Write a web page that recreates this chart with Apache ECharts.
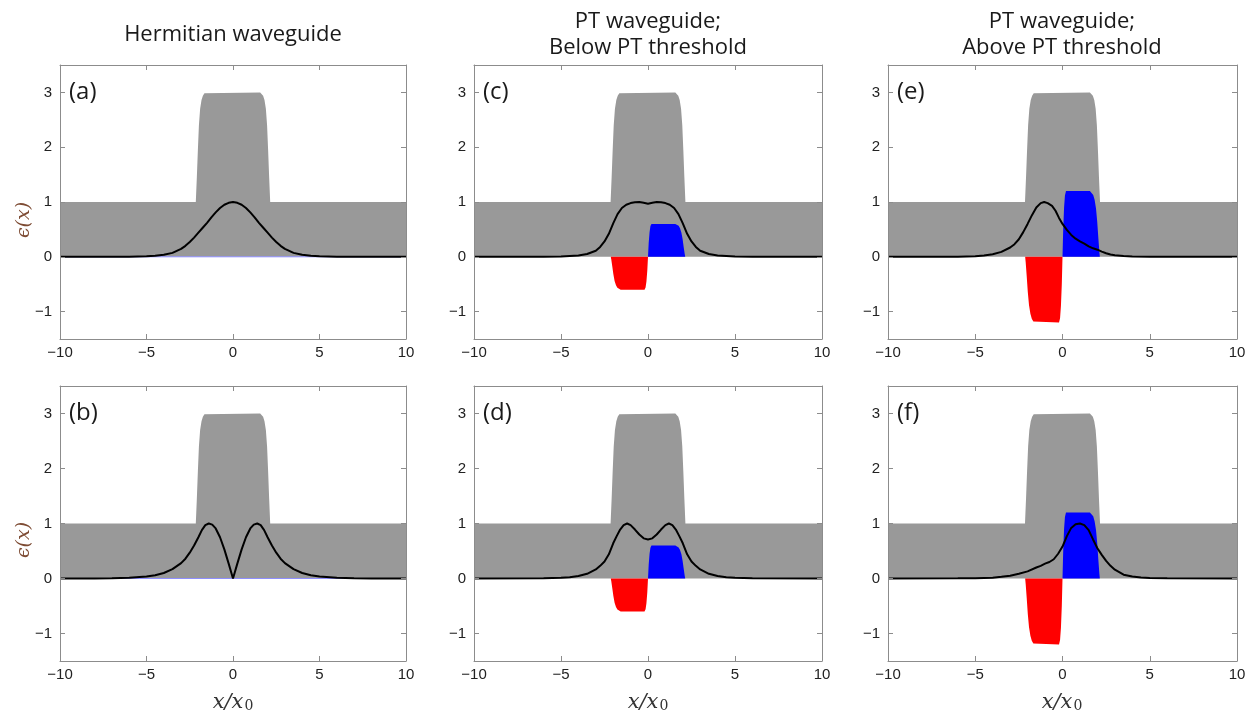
<!DOCTYPE html>
<html>
<head>
<meta charset="utf-8">
<script src="https://cdn.jsdelivr.net/npm/echarts@6/dist/echarts.min.js"></script>
<style>
  html, body { margin: 0; padding: 0; background: #fff; }
  #chart { width: 1252px; height: 717px; }
</style>
</head>
<body>
<div id="chart"></div>
<script>
// Axis ticks
const xTicks = [-10, -5, 0, 5, 10];
const yTicks = [-1, 0, 1, 2, 3];

// Real part of the permittivity (same core/cladding profile in every panel)
const profileX  = [-10, -2.15, -2.09, -2.03, -1.97, -1.9, -1.82, -1.74, -1.65, -1.57, 1.57, 1.65, 1.74, 1.82, 1.9, 1.97, 2.03, 2.09, 2.15, 10];
const profileRe = [1, 1, 1.45, 1.95, 2.4, 2.7, 2.86, 2.94, 2.985, 3, 3, 2.985, 2.94, 2.86, 2.7, 2.4, 1.95, 1.45, 1, 1];

// Imaginary part: zero for the Hermitian guide
const hermX  = [-10, 10];
const hermIm = [0, 0];

// Imaginary part: gain side (x > 0) and loss side (x < 0)
const gainX      = [0, 0.04, 0.09, 0.14, 0.2, 1.57, 1.67, 1.76, 1.84, 1.92, 1.99, 2.05, 2.11, 2.14];
const gainBelow  = [0, 0.25, 0.45, 0.56, 0.6, 0.6, 0.59, 0.565, 0.52, 0.44, 0.32, 0.18, 0.05, 0];
const gainAbove  = [0, 0.5, 0.9, 1.12, 1.2, 1.2, 1.18, 1.13, 1.04, 0.88, 0.64, 0.36, 0.1, 0];
const lossX      = [-2.14, -2.11, -2.05, -1.99, -1.92, -1.84, -1.76, -1.67, -1.57, -0.2, -0.14, -0.09, -0.04, 0];
const lossBelow  = [0, -0.05, -0.18, -0.32, -0.44, -0.52, -0.565, -0.59, -0.6, -0.6, -0.56, -0.45, -0.25, 0];
const lossAbove  = [0, -0.1, -0.36, -0.64, -0.88, -1.04, -1.13, -1.18, -1.2, -1.2, -1.12, -0.9, -0.5, 0];

// Mode intensity profiles |psi(x)|^2, normalised to a peak of 1
const modeA = [[-10,0],[-7,0.001],[-6,0.003],[-5,0.009],[-4.5,0.018],[-4,0.036],[-3.5,0.072],[-3,0.145],[-2.75,0.2],[-2.5,0.27],[-2.25,0.35],[-2,0.44],[-1.75,0.53],[-1.5,0.62],[-1.25,0.72],[-1,0.81],[-0.75,0.89],[-0.5,0.95],[-0.25,0.985],[0,1],
  [0.25,0.985],[0.5,0.95],[0.75,0.89],[1,0.81],[1.25,0.72],[1.5,0.62],[1.75,0.53],[2,0.44],[2.25,0.35],[2.5,0.27],[2.75,0.2],[3,0.145],[3.5,0.072],[4,0.036],[4.5,0.018],[5,0.009],[6,0.003],[7,0.001],[10,0]];
const modeB = [[-10,0],[-8,0.001],[-7,0.004],[-6,0.012],[-5,0.035],[-4.5,0.06],[-4,0.1],[-3.5,0.17],[-3,0.28],[-2.75,0.36],[-2.5,0.47],[-2.25,0.6],[-2,0.75],[-1.8,0.88],[-1.6,0.97],[-1.4,1],[-1.2,0.98],[-1,0.91],[-0.75,0.75],[-0.5,0.53],[-0.25,0.27],[0,0],
  [0.25,0.27],[0.5,0.53],[0.75,0.75],[1,0.91],[1.2,0.98],[1.4,1],[1.6,0.97],[1.8,0.88],[2,0.75],[2.25,0.6],[2.5,0.47],[2.75,0.36],[3,0.28],[3.5,0.17],[4,0.1],[4.5,0.06],[5,0.035],[6,0.012],[7,0.004],[8,0.001],[10,0]];
const modeC = [[-10,0],[-6,0.002],[-5,0.006],[-4,0.025],[-3.5,0.05],[-3,0.11],[-2.75,0.18],[-2.5,0.28],[-2.25,0.42],[-2,0.61],[-1.75,0.78],[-1.5,0.89],[-1.25,0.95],[-1,0.98],[-0.75,0.995],[-0.5,1],[-0.25,0.985],[0,0.97],
  [0.25,0.985],[0.5,1],[0.75,0.995],[1,0.98],[1.25,0.95],[1.5,0.89],[1.75,0.78],[2,0.61],[2.25,0.42],[2.5,0.28],[2.75,0.18],[3,0.11],[3.5,0.05],[4,0.025],[5,0.006],[6,0.002],[10,0]];
const modeD = [[-10,0],[-6,0.003],[-5,0.012],[-4.5,0.022],[-4,0.045],[-3.5,0.085],[-3,0.165],[-2.75,0.23],[-2.5,0.31],[-2.25,0.44],[-2,0.64],[-1.8,0.77],[-1.6,0.89],[-1.4,0.97],[-1.2,1],[-1,0.97],[-0.75,0.89],[-0.5,0.8],[-0.25,0.73],[0,0.71],
  [0.25,0.73],[0.5,0.8],[0.75,0.89],[1,0.97],[1.2,1],[1.4,0.97],[1.6,0.89],[1.8,0.77],[2,0.64],[2.25,0.44],[2.5,0.31],[2.75,0.23],[3,0.165],[3.5,0.085],[4,0.045],[4.5,0.022],[5,0.012],[6,0.003],[10,0]];
const modeE = [[-10,0],[-6,0.002],[-5,0.01],[-4.5,0.025],[-4,0.045],[-3.5,0.09],[-3,0.17],[-2.75,0.23],[-2.5,0.32],[-2.25,0.45],[-2,0.6],[-1.75,0.76],[-1.5,0.9],[-1.25,0.98],[-1.05,1],[-0.85,0.98],[-0.6,0.93],[-0.4,0.84],[-0.2,0.71],[0,0.6],
  [0.25,0.49],[0.5,0.4],[0.75,0.33],[1,0.28],[1.25,0.24],[1.5,0.19],[1.75,0.155],[2,0.13],[2.25,0.095],[2.5,0.065],[2.75,0.042],[3,0.028],[3.5,0.013],[4,0.006],[5,0.002],[10,0]];
const modeF = [[-10,0],[-6,0.003],[-5,0.005],[-4.5,0.01],[-4,0.015],[-3.5,0.03],[-3,0.05],[-2.5,0.085],[-2,0.13],[-1.5,0.2],[-1.25,0.23],[-1,0.27],[-0.75,0.3],[-0.5,0.35],[-0.25,0.45],[0,0.58],
  [0.25,0.77],[0.5,0.92],[0.75,0.985],[1,1],[1.25,0.97],[1.5,0.88],[1.75,0.71],[2,0.55],[2.25,0.43],[2.5,0.32],[2.75,0.23],[3,0.16],[3.5,0.07],[4,0.035],[4.5,0.02],[5,0.01],[6,0.003],[10,0]];

const pairs = (xs, ys) => xs.map((x, i) => [x, ys[i]]);

const lefts  = [60, 474, 888];
const widths = [346, 348, 349];
const tops   = [65, 386];
const heights = [274, 275];

// panel order: row-major
const panels = [
  { tag: '(a)', mode: modeA, flat: true },
  { tag: '(c)', mode: modeC, gain: gainBelow, loss: lossBelow },
  { tag: '(e)', mode: modeE, gain: gainAbove, loss: lossAbove },
  { tag: '(b)', mode: modeB, flat: true },
  { tag: '(d)', mode: modeD, gain: gainBelow, loss: lossBelow },
  { tag: '(f)', mode: modeF, gain: gainAbove, loss: lossAbove }
];

const frame = '#8c8c8c';
const minus = v => String(v).replace('-', '\u2212');
const tickFont = { color: '#222', fontSize: 15, fontFamily: 'Liberation Sans' };

const grid = [], xAxis = [], yAxis = [], series = [], graphic = [];

panels.forEach((p, i) => {
  const r = Math.floor(i / 3), c = i % 3;
  grid.push({ left: lefts[c], top: tops[r], width: widths[c], height: heights[r], containLabel: false });
  const common = { gridIndex: i, type: 'value', z: 10,
    axisLine: { show: true, onZero: false, lineStyle: { color: frame, width: 1 } },
    splitLine: { show: false } };
  xAxis.push(Object.assign({}, common, { position: 'bottom', min: -10, max: 10,
    axisTick: { inside: true, length: 5, lineStyle: { color: frame }, customValues: xTicks },
    axisLabel: Object.assign({ margin: 6, customValues: xTicks, formatter: minus }, tickFont) }));
  xAxis.push(Object.assign({}, common, { position: 'top', min: -10, max: 10,
    axisTick: { inside: true, length: 5, lineStyle: { color: frame }, customValues: xTicks },
    axisLabel: { show: false } }));
  yAxis.push(Object.assign({}, common, { position: 'left', min: -1.5, max: 3.5,
    axisTick: { inside: true, length: 5, lineStyle: { color: frame }, customValues: yTicks },
    axisLabel: Object.assign({ margin: 8, customValues: yTicks, formatter: minus }, tickFont) }));
  yAxis.push(Object.assign({}, common, { position: 'right', min: -1.5, max: 3.5,
    axisTick: { inside: true, length: 5, lineStyle: { color: frame }, customValues: yTicks },
    axisLabel: { show: false } }));

  const base = { type: 'line', xAxisIndex: 2 * i, yAxisIndex: 2 * i, symbol: 'none', silent: true, animation: false };
  series.push(Object.assign({}, base, { data: pairs(profileX, profileRe), z: 1,
    lineStyle: { width: 0 }, areaStyle: { color: '#999999', opacity: 1 } }));
  if (p.flat) {
    series.push(Object.assign({}, base, { data: pairs(hermX, hermIm), z: 2,
      lineStyle: { width: 1, color: '#8f8fff' } }));
  }
  if (p.gain) {
    series.push(Object.assign({}, base, { data: pairs(gainX, p.gain), z: 2,
      lineStyle: { width: 0 }, areaStyle: { color: '#0000ff', opacity: 1 } }));
    series.push(Object.assign({}, base, { data: pairs(lossX, p.loss), z: 2,
      lineStyle: { width: 0 }, areaStyle: { color: '#ff0000', opacity: 1 } }));
  }
  series.push(Object.assign({}, base, { data: p.mode, z: 3,
    lineStyle: { width: 2, color: '#000' } }));

  // panel tag
  graphic.push({ type: 'text', left: lefts[c] + 9, top: tops[r] + 15, z: 20,
    style: { text: p.tag, font: '24px "Open Sans"', fill: '#1a1a1a' } });
});

// column headings
const headFont = '22px "Open Sans"';
const head = (x, y, t) => graphic.push({ type: 'text', x, y,
  style: { text: t, font: headFont, fill: '#1a1a1a', align: 'center', verticalAlign: 'middle' } });
head(233, 35, 'Hermitian waveguide');
head(648, 22, 'PT waveguide;');
head(648, 48, 'Below PT threshold');
head(1062, 22, 'PT waveguide;');
head(1062, 48, 'Above PT threshold');

// y-axis titles
[220, 540].forEach(yc => {
  graphic.push({ type: 'text', x: 24, y: yc, rotation: Math.PI / 2,
    style: { text: '\u03f5(x)', font: 'italic 19px "DejaVu Serif"', fill: '#7d4b33', align: 'center', verticalAlign: 'middle' } });
});

// x-axis titles
[233, 648, 1062].forEach(xc => {
  graphic.push({ type: 'text', x: xc, y: 703,
    style: { text: '{i|x/x}{s|0}', align: 'center', verticalAlign: 'middle',
      rich: { i: { font: 'italic 21px "DejaVu Serif"', fill: '#333', verticalAlign: 'bottom' },
              s: { font: '14px "DejaVu Serif"', fill: '#333', verticalAlign: 'bottom', padding: [0, 0, 0, 1] } } } });
});

const chart = echarts.init(document.getElementById('chart'), null, { renderer: 'canvas' });
chart.setOption({ animation: false, grid, xAxis, yAxis, series, graphic });
</script>
</body>
</html>
